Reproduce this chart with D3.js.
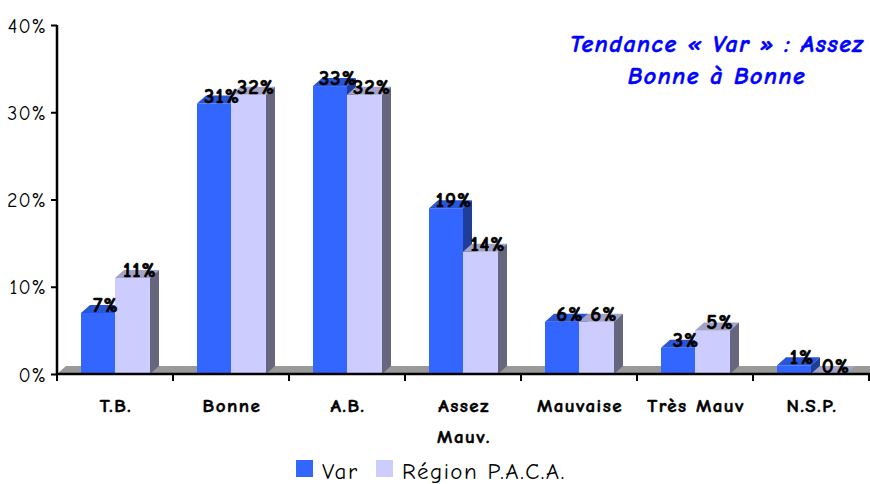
<!DOCTYPE html>
<html>
<head>
<meta charset="utf-8">
<script src="https://d3js.org/d3.v7.min.js"></script>
<style>
  body { margin: 0; background: #fff; }
  svg text { font-family: "Comic Sans MS", "Comic Neue", "DejaVu Sans", sans-serif; }
</style>
</head>
<body>
<svg id="chart" width="870" height="484"></svg>
<script>
// data
const categories = ["T.B.", "Bonne", "A.B.", "Assez\nMauv.", "Mauvaise", "Très Mauv", "N.S.P."];
const varValues  = [7, 31, 33, 19, 6, 3, 1];
const pacaValues = [11, 32, 32, 14, 6, 5, 0];
const yTicks = [0, 10, 20, 30, 40];
const seriesNames = ["Var", "Région P.A.C.A."];

const colors = {
  front: ["#3366ff", "#ccccff"],
  top:   ["#2a55d6", "#a3a3c8"],
  side:  ["#1f3d99", "#66667f"]
};
const dx = 9, dy = 8; // 3d depth

const svg = d3.select("#chart");

const x = d3.scaleBand().domain(categories).range([57, 869]);
const xSub = d3.scaleBand().domain(seriesNames).range([24, 92]);
const y = d3.scaleLinear().domain([0, 40]).range([374, 25]);

// floor
svg.append("polygon")
  .attr("points", [[57, y(0)], [57 + dx, y(0) - dy], [870, y(0) - dy], [870, y(0)]].join(" "))
  .attr("fill", "#999999");

// bars
categories.forEach(function(c, i) {
  [varValues[i], pacaValues[i]].forEach(function(v, s) {
    const x0 = x(c) + xSub(seriesNames[s]);
    const w = xSub.bandwidth() + (s == 1 ? 1 : 0);
    const x1 = x0 + w;
    const yt = y(v), yb = y(0);
    const g = svg.append("g");
    if (v > 0) {
      g.append("rect")
        .attr("x", x0).attr("y", yt)
        .attr("width", w).attr("height", yb - yt)
        .attr("fill", colors.front[s]);
    }
    g.append("polygon")
      .attr("points", [[x0, yt], [x0 + dx, yt - dy], [x1 + dx, yt - dy], [x1, yt]].join(" "))
      .attr("fill", colors.top[s]);
    g.append("polygon")
      .attr("points", [[x1, yt], [x1 + dx, yt - dy], [x1 + dx, yb - dy], [x1, yb]].join(" "))
      .attr("fill", colors.side[s]);
  });
});

// value labels
categories.forEach(function(c, i) {
  [varValues[i], pacaValues[i]].forEach(function(v, s) {
    const cx = x(c) + xSub(seriesNames[s]) + xSub.bandwidth() / 2 + 8;
    svg.append("text")
      .attr("x", cx).attr("y", y(v) - 1)
      .attr("text-anchor", "middle")
      .attr("font-size", 21).attr("font-weight", "bold")
      .attr("letter-spacing", 1)
      .attr("fill", "#000").attr("stroke", "#000").attr("stroke-width", 0.6)
      .text(v + "%");
  });
});

// y axis
const yAxis = svg.append("g")
  .attr("transform", "translate(57,0)")
  .call(d3.axisLeft(y).tickValues(yTicks).tickSize(6).tickFormat(d => d + "%"));
yAxis.select(".domain").attr("stroke", "#000").attr("stroke-width", 2.5).attr("d", "M0," + y(40) + "V" + y(0));
yAxis.selectAll(".tick line").attr("stroke", "#000").attr("stroke-width", 2);
yAxis.selectAll(".tick text").attr("x", -10).attr("dy", "0.35em")
  .attr("font-size", 20).attr("letter-spacing", 1).attr("fill", "#000");

// x axis
const bounds = categories.map(c => x(c)).concat([x.range()[1]]);
svg.append("line")
  .attr("x1", 57).attr("x2", 870).attr("y1", y(0)).attr("y2", y(0))
  .attr("stroke", "#000").attr("stroke-width", 2.5);
svg.selectAll(".xtick").data(bounds).enter().append("line")
  .attr("x1", d => d).attr("x2", d => d)
  .attr("y1", y(0)).attr("y2", y(0) + 7)
  .attr("stroke", "#000").attr("stroke-width", 2);

categories.forEach(function(c) {
  const cx = x(c) + x.bandwidth() / 2 + 1;
  const t = svg.append("text")
    .attr("x", cx).attr("y", 412)
    .attr("text-anchor", "middle")
    .attr("font-size", 19).attr("font-weight", "bold")
    .attr("letter-spacing", 1.5).attr("fill", "#000")
    .attr("stroke", "#000").attr("stroke-width", 0.5);
  c.split("\n").forEach(function(line, k) {
    t.append("tspan").attr("x", cx).attr("dy", k == 0 ? 0 : 31).text(line);
  });
});

// title
const title = svg.append("text")
  .attr("x", 717).attr("y", 52)
  .attr("text-anchor", "middle")
  .attr("font-size", 24).attr("font-weight", "bold").attr("font-style", "italic")
  .attr("letter-spacing", 1.5)
  .attr("fill", "#0000ff").attr("stroke", "#0000ff").attr("stroke-width", 0.5);
title.append("tspan").attr("x", 717).text("Tendance « Var » : Assez");
title.append("tspan").attr("x", 717).attr("dy", 32).text("Bonne à Bonne");

// legend
const legendX = [296, 376];
seriesNames.forEach(function(n, s) {
  svg.append("rect")
    .attr("x", legendX[s]).attr("y", 460).attr("width", 17).attr("height", 17)
    .attr("fill", colors.front[s]);
  svg.append("text")
    .attr("x", legendX[s] + 26).attr("y", 479)
    .attr("font-size", 23).attr("letter-spacing", 1.5).attr("fill", "#000")
    .text(n);
});
</script>
</body>
</html>
